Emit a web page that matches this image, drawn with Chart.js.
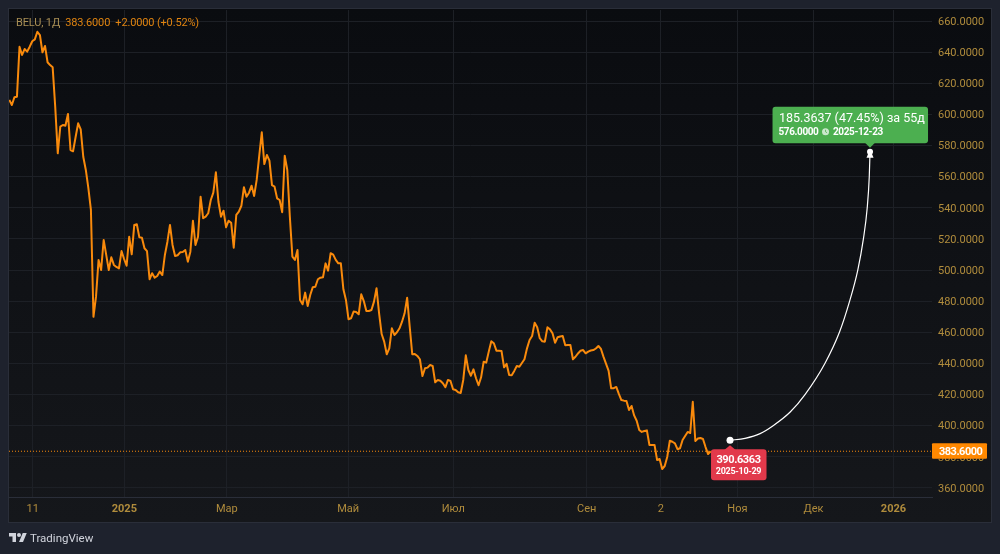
<!DOCTYPE html>
<html lang="ru">
<head>
    <meta charset="UTF-8">
    <title>BELU, 1Д</title>
    <script src="https://cdn.jsdelivr.net/npm/chart.js"></script>
    <style>
        html, body {
            margin: 0;
            width: 1000px;
            height: 554px;
            overflow: hidden;
            background-color: #1e222d;
            font-family: Roboto, Arial, sans-serif;
        }
        #panel {
            position: absolute;
            left: 8px;
            top: 8px;
            width: 982px;
            height: 513px;
            border: 1px solid #2a2e39;
            background: linear-gradient(#0a0c10, #15171b);
        }
        #chart {
            position: absolute;
            left: 0;
            top: 0;
        }
        #legend {
            position: absolute;
            left: 16px;
            top: 16px;
            font-size: 11px;
            line-height: 14px;
            letter-spacing: -0.15px;
            color: #e08410;
            white-space: pre;
        }
        #legend span {
            color: #a98f55;
        }
        #logo {
            position: absolute;
            left: 9px;
            top: 529px;
            height: 18px;
            display: flex;
            align-items: center;
            color: #d1d4dc;
            font-size: 11.5px;
        }
        #logo svg {
            margin-right: 3px;
        }
    </style>
</head>
<body>
    <div id="panel"></div>
    <canvas id="chart" width="1000" height="554"></canvas>
    <div id="legend"><span>BELU, 1Д</span>  383.6000  +2.0000 (+0.52%)</div>
    <div id="logo">
        <svg width="18" height="14" viewBox="0 0 36 28" fill="#d1d4dc">
            <path d="M14 22H7V11H0V4h14v18zM28 22h-8l7.5-18h8L28 22z"/>
            <circle cx="20" cy="8" r="4"/>
        </svg>
        TradingView
    </div>

    <script>
        // daily closes, the array position is the bar number
        const closes = [
            609.3, 606, 611, 611.4, 643.5, 638.2, 642, 640.3, 643.5, 647,
            648.2, 653.1, 651, 639.9, 644, 633.5, 631.7, 630.3, 605, 575,
            592.1, 593.2, 592.7, 600.3, 577.1, 576.3, 585.5, 594.3, 590.4, 572.8,
            564.3, 552.7, 538.6, 470, 482.9, 506.5, 500, 519.3, 509.7, 500,
            508.2, 503.3, 502, 501.1, 512.2, 507.1, 502.8, 521.4, 510.1, 529,
            529.4, 521, 520.8, 514, 512.1, 494.1, 498, 495.1, 496.2, 499,
            496.8, 509.7, 518.2, 529, 516.1, 509, 509.5, 511.4, 511.6, 512.9,
            505.4, 511.8, 531.7, 516.1, 521.4, 547.1, 533.3, 534.3, 536.5, 545,
            549.7, 562.8, 543.9, 534.3, 538.1, 527.5, 531.7, 530.4, 514.4, 535.4,
            537.5, 541.3, 553.2, 547.1, 549.7, 554.2, 547.6, 557.9, 573.3, 588.5,
            568.1, 573.9, 570.3, 554.6, 553.6, 546.1, 545, 537.1, 573.5, 564.3,
            534.3, 508.6, 506.5, 512.9, 480.8, 478, 485.5, 476.9, 484, 489,
            489.3, 494.1, 495.1, 495.4, 504.3, 499.6, 510.8, 509.9, 506.5, 504.3,
            504.3, 487.6, 480.8, 468.4, 469, 473.3, 473.1, 471.6, 484.4, 480.1,
            473.7, 473.7, 474.3, 479.7, 488.3, 472.2, 458.9, 454, 445.9, 449.7,
            462.6, 458.3, 460, 462.6, 466.8, 472.2, 482.2, 463.6, 445.9, 446.1,
            444.8, 442.7, 431.9, 436.9, 437.3, 439, 438.4, 427.9, 429.4, 428.9,
            427.3, 424.7, 429.4, 428.7, 423.4, 423, 421.5, 421, 429.4, 445.2,
            435.8, 432.1, 436.2, 430.5, 426, 431.1, 441.1, 440.5, 447.6, 454.2,
            453, 448.2, 448.1, 448, 437.5, 439.7, 432.6, 432.4, 435.2, 438.4,
            437.9, 440.3, 442.7, 449.7, 455.1, 457.6, 466.2, 463.2, 456.2, 454.2,
            454, 463.2, 461.9, 459.4, 453.3, 456.8, 457.3, 457.6, 451.7, 451.9,
            451.9, 442.7, 444.3, 446.4, 448.2, 448.6, 446.5, 447.6, 448.3, 448.6,
            449.6, 451.2, 449.3, 444.2, 439.7, 435.2, 424, 424.1, 424.9, 420.4,
            416.5, 416.1, 415.9, 410.1, 412.7, 406.6, 403.2, 397.3, 396, 396.6,
            397, 387.6, 387.6, 387.6, 378, 378.6, 372.2, 374.1, 380.1, 390.4,
            389.7, 388.7, 384.9, 385.5, 390.8, 393.4, 396, 395.3, 415.4, 390.2,
            391.8, 392.1, 391.5, 386.3, 381.8, 383.6
        ];

        // forecast curve
        const curveBars = [282.6, 288.5, 294.4, 299.5, 306.2, 312, 319.8, 325.5, 329.5, 332.7, 334.9, 336.4, 337.2, 337.5];
        const curvePrices = [390.6363, 391.9, 394.9, 400, 408.8, 420, 440, 460, 480, 500, 520, 540, 560, 576];
        const startDate = '2025-10-29';
        const endDate = '2025-12-23';
        const curveDays = 55;

        const tickBars = [9.2, 45.1, 85.3, 132.9, 174.1, 226.4, 255.5, 285.5, 315.3, 346.7];
        const tickLabels = ['11', '2025', 'Мар', 'Май', 'Июл', 'Сен', '2', 'Ноя', 'Дек', '2026'];
        const priceTicks = [360, 380, 400, 420, 440, 460, 480, 500, 520, 540, 560, 580, 600, 620, 640, 660];

        const lastClose = closes[closes.length - 1];
        const minBar = -0.12;
        const maxBar = 361.8;
        const gridColor = '#1d2026';
        const axisTextColor = '#b08c3c';

        function roundedBox(ctx, x, y, w, h, r) {
            ctx.beginPath();
            ctx.roundRect(x, y, w, h, r);
            ctx.fill();
        }

        // labels and markers on top of the curve
        const markersPlugin = {
            id: 'markers',
            afterDraw(chart) {
                const ctx = chart.ctx;
                const xs = chart.scales.x;
                const ys = chart.scales.y;
                const last = curveBars.length - 1;
                const sx = xs.getPixelForValue(curveBars[0]);
                const sy = ys.getPixelForValue(curvePrices[0]);
                const ex = xs.getPixelForValue(curveBars[last]);
                const ey = ys.getPixelForValue(curvePrices[last]);
                const ly = ys.getPixelForValue(lastClose);

                ctx.save();
                ctx.textBaseline = 'middle';

                // last price tag
                ctx.fillStyle = '#ff8800';
                roundedBox(ctx, 932, ly - 8, 55, 15.5, 1);
                ctx.fillStyle = '#ffffff';
                ctx.font = 'bold 11px Roboto';
                ctx.letterSpacing = '-0.5px';
                ctx.textAlign = 'left';
                ctx.fillText(lastClose.toFixed(4), 939, ly + 1);

                // start tag
                ctx.fillStyle = '#e2394b';
                ctx.beginPath();
                ctx.moveTo(sx, sy + 5);
                ctx.lineTo(sx + 6, sy + 10);
                ctx.lineTo(sx - 6, sy + 10);
                ctx.closePath();
                ctx.fill();
                roundedBox(ctx, sx - 19, sy + 9, 55.5, 31, 3);
                ctx.fillStyle = '#ffffff';
                ctx.textAlign = 'center';
                ctx.font = 'bold 11px Roboto';
                ctx.letterSpacing = '-0.4px';
                ctx.fillText(curvePrices[0].toFixed(4), sx + 8.5, sy + 20);
                ctx.font = 'bold 9px Roboto';
                ctx.letterSpacing = '-0.3px';
                ctx.fillText(startDate, sx + 8.5, sy + 31.5);

                // end tag
                ctx.fillStyle = '#4caf50';
                ctx.beginPath();
                ctx.moveTo(ex, ey - 4);
                ctx.lineTo(ex + 5, ey - 9);
                ctx.lineTo(ex - 5, ey - 9);
                ctx.closePath();
                ctx.fill();
                roundedBox(ctx, ex - 97.5, ey - 45, 155.5, 36.5, 3);
                const diff = curvePrices[last] - curvePrices[0];
                const pct = diff / curvePrices[0] * 100;
                ctx.fillStyle = '#ffffff';
                ctx.textAlign = 'left';
                ctx.font = '12.5px Roboto';
                ctx.letterSpacing = '0px';
                ctx.fillText(diff.toFixed(4) + ' (' + pct.toFixed(2) + '%) за ' + curveDays + 'д', ex - 91, ey - 32.5);
                ctx.font = 'bold 10px Roboto';
                ctx.letterSpacing = '-0.4px';
                ctx.fillText(curvePrices[last].toFixed(4), ex - 91.5, ey - 19.5);
                ctx.fillText(endDate, ex - 37, ey - 19.5);
                ctx.letterSpacing = '0px';

                // clock between price and date
                ctx.fillStyle = 'rgba(255, 255, 255, 0.7)';
                ctx.beginPath();
                ctx.arc(ex - 44.5, ey - 20, 3.5, 0, Math.PI * 2);
                ctx.fill();
                ctx.strokeStyle = '#4caf50';
                ctx.lineWidth = 0.8;
                ctx.beginPath();
                ctx.moveTo(ex - 44.5, ey - 22);
                ctx.lineTo(ex - 44.5, ey - 20);
                ctx.lineTo(ex - 43, ey - 19);
                ctx.stroke();

                // pin at the end of the curve
                ctx.fillStyle = '#ffffff';
                ctx.beginPath();
                ctx.arc(ex, ey, 3, 0, Math.PI * 2);
                ctx.fill();
                ctx.beginPath();
                ctx.moveTo(ex - 1.5, ey + 1);
                ctx.lineTo(ex + 1.5, ey + 1);
                ctx.lineTo(ex + 3.5, ey + 6);
                ctx.lineTo(ex - 3.5, ey + 6);
                ctx.closePath();
                ctx.fill();

                ctx.restore();
            }
        };

        new Chart(document.getElementById('chart'), {
            type: 'line',
            plugins: [markersPlugin],
            data: {
                datasets: [
                    {
                        label: 'last',
                        data: [{ x: minBar, y: lastClose }, { x: maxBar, y: lastClose }],
                        borderColor: '#f98a0c',
                        borderWidth: 1,
                        borderDash: [1, 2],
                        pointRadius: 0
                    },
                    {
                        label: 'BELU',
                        data: closes.map((v, i) => ({ x: i, y: v })),
                        borderColor: '#f98a0c',
                        borderWidth: 2,
                        borderJoinStyle: 'round',
                        pointRadius: 0,
                        tension: 0
                    },
                    {
                        label: 'forecast',
                        data: curveBars.map((b, i) => ({ x: b, y: curvePrices[i] })),
                        borderColor: '#ffffff',
                        borderWidth: 1.2,
                        cubicInterpolationMode: 'monotone',
                        pointRadius: curveBars.map((b, i) => i === 0 ? 3.5 : 0),
                        pointBackgroundColor: '#ffffff',
                        pointBorderWidth: 0
                    }
                ]
            },
            options: {
                responsive: false,
                animation: false,
                events: [],
                layout: { padding: { left: 9, top: 10, right: 10, bottom: 32 } },
                plugins: {
                    legend: { display: false },
                    tooltip: { enabled: false }
                },
                scales: {
                    x: {
                        type: 'linear',
                        min: minBar,
                        max: maxBar,
                        afterBuildTicks(scale) {
                            scale.ticks = tickBars.map(b => ({ value: b }));
                        },
                        afterFit(scale) {
                            scale.height = 25;
                        },
                        grid: { color: gridColor, drawTicks: false },
                        border: { color: '#2a2e39' },
                        ticks: {
                            autoSkip: false,
                            maxRotation: 0,
                            padding: 6,
                            color: axisTextColor,
                            font: ctx => ({
                                family: 'Roboto',
                                size: 11,
                                weight: /^20/.test(tickLabels[ctx.index]) ? 'bold' : 'normal'
                            }),
                            callback: (value, index) => tickLabels[index]
                        }
                    },
                    y: {
                        position: 'right',
                        min: 354.2,
                        max: 667.07,
                        afterBuildTicks(scale) {
                            scale.ticks = priceTicks.map(p => ({ value: p }));
                        },
                        // fixed axis width, and no extra room for the top label
                        afterFit(scale) {
                            scale.width = 58;
                            scale.paddingTop = 0;
                            scale.paddingBottom = 0;
                        },
                        grid: { color: gridColor, drawTicks: false },
                        border: { display: false },
                        ticks: {
                            padding: 6,
                            labelOffset: 1,
                            color: axisTextColor,
                            font: { family: 'Roboto', size: 11 },
                            callback: value => value.toFixed(4)
                        }
                    }
                }
            }
        });
    </script>
</body>
</html>
